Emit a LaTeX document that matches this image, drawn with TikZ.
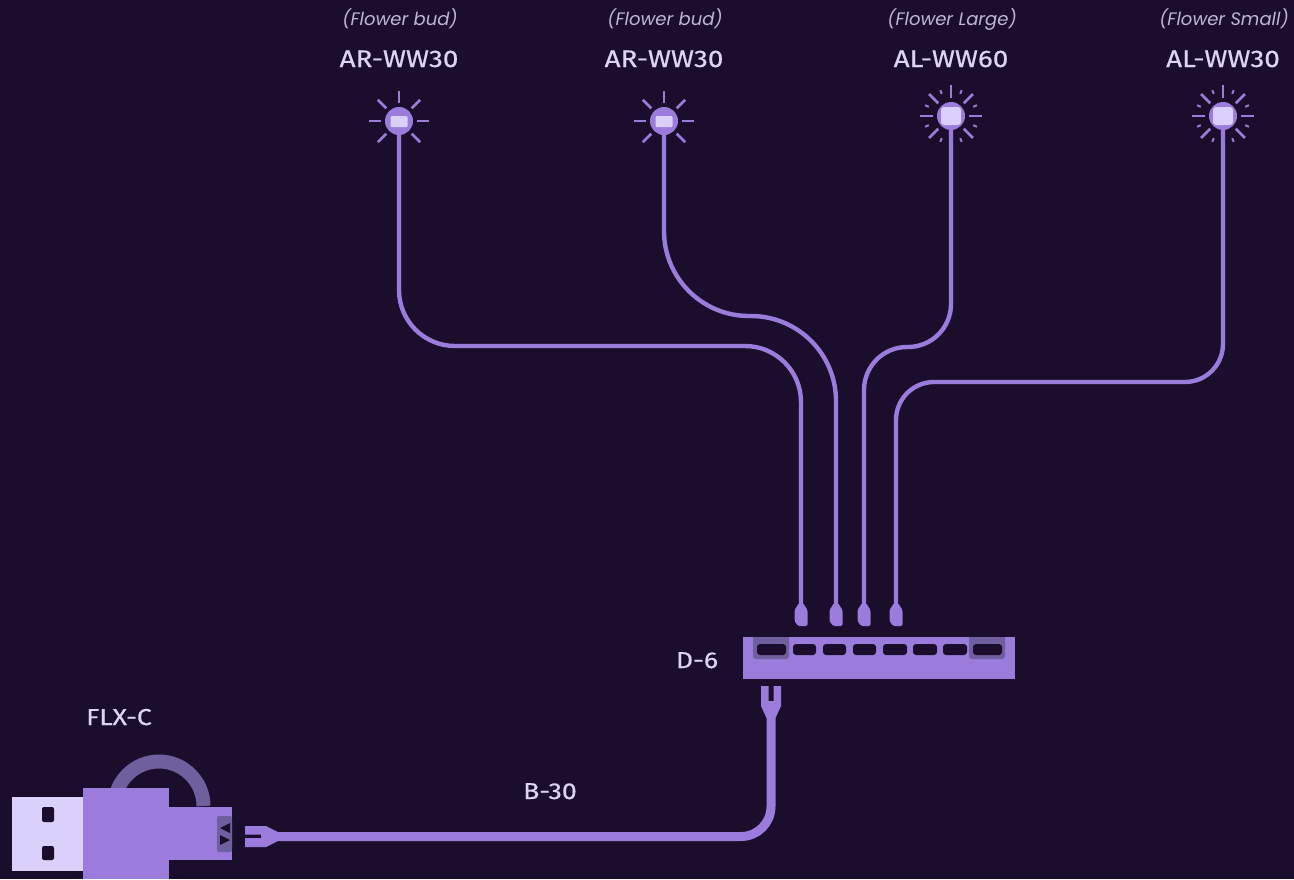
\documentclass[tikz,border=0pt]{standalone}
\usepackage{fontspec}
\newfontfamily\modelfont[FakeStretch=1.16,FakeBold=0.5]{Fira Sans}
\newfontfamily\notefont{Poppins}
\usetikzlibrary{positioning}
\definecolor{nightbg}{HTML}{1A0E2C}
\definecolor{wirepurple}{HTML}{9B7BDB}
\definecolor{palelilac}{HTML}{DAD0FA}
\definecolor{dimpurple}{HTML}{6F5F9E}
\definecolor{labeltext}{HTML}{DDD4F5}
\tikzset{
  modellabel/.style={text=labeltext,font=\modelfont\fontsize{24}{28}\selectfont,inner sep=0pt,anchor=base},
  devlabel/.style={text=labeltext,font=\modelfont\fontsize{23}{27}\selectfont,inner sep=0pt,anchor=base},
  notelabel/.style={text=labeltext!85!nightbg,font=\notefont\itshape\fontsize{18}{22}\selectfont,inner sep=0pt,anchor=base},
  wire/.style={draw=wirepurple,line width=4.4pt,line cap=round},
  bigwire/.style={draw=wirepurple,line width=9pt},
  lamp/.style={circle,fill=wirepurple,minimum size=28pt,inner sep=0pt},
  ray/.style={draw=wirepurple,line width=2.6pt},
  tick/.style={draw=wirepurple,line width=2pt},
  slot/.style={fill=nightbg,rounded corners=3pt}
}
\begin{document}
\begin{tikzpicture}[x=1pt,y=-1pt]

% Background
\fill[nightbg] (0,0) rectangle (1294,879);
\useasboundingbox (0,0) rectangle (1294,879);

%------------------------
% Lamps and their labels
%------------------------
\node[lamp] (lampA) at (399,121) {};
\node[lamp] (lampB) at (664,121) {};
\node[lamp] (lampC) at (951,116) {};
\node[lamp] (lampD) at (1223,116) {};

% small lamps
\foreach \lx in {399,664} {
  \fill[palelilac,rounded corners=1pt] (\lx-8.5,116) rectangle (\lx+8.5,127);
  \foreach \ang in {0,45,...,315}
    \draw[ray] ([shift={(\ang:18)}]\lx,121) -- ([shift={(\ang:30)}]\lx,121);
}

% large lamps
\foreach \lx in {951,1223} {
  \fill[palelilac,rounded corners=3pt] (\lx-10,107) rectangle (\lx+10,125);
  \foreach \ang in {0,45,...,315}
    \draw[ray] ([shift={(\ang:18)}]\lx,116) -- ([shift={(\ang:31)}]\lx,116);
  \foreach \ang in {22.5,67.5,...,337.5}
    \draw[tick] ([shift={(\ang:24)}]\lx,116) -- ([shift={(\ang:28)}]\lx,116);
}

\node[notelabel] (noteA) at (400,25) {(Flower bud)};
\node[notelabel] (noteB) at (665,25) {(Flower bud)};
\node[notelabel] (noteC) at (952,25) {(Flower Large)};
\node[notelabel] (noteD) at (1224,25) {(Flower Small)};
\node[modellabel] (nameA) at (399,67) {AR-WW30};
\node[modellabel] (nameB) at (664,67) {AR-WW30};
\node[modellabel] (nameC) at (951,67) {AL-WW60};
\node[modellabel] (nameD) at (1223,67) {AL-WW30};

%------------------------
% Plug heads above the hub
%------------------------
\foreach \px/\pname in {801/plugA,836/plugB,864/plugC,896/plugD} {
  \coordinate (\pname) at (\px,606);
  \fill[wirepurple,rounded corners=1.5pt] (\px-2,603) -- (\px+2,603) -- (\px+6.5,610) -- (\px+6.5,626)
    -- (\px-3,626) -- (\px-6.5,621) -- (\px-6.5,610) -- cycle;
}

%------------------------
% Wires from lamps to plugs
%------------------------
\coordinate (busA) at (600,346);
\coordinate (busB) at (750,316);
\coordinate (busC) at (907,347);
\coordinate (busD) at (1050,382);
\draw[wire,rounded corners=56pt] (lampA.south) |- (busA);
\draw[wire,rounded corners=56pt] (busA) -| (plugA);
\draw[wire,rounded corners=85pt] (lampB.south) |- (busB);
\draw[wire,rounded corners=85pt] (busB) -| (plugB);
\draw[wire,rounded corners=43pt] (lampC.south) |- (busC);
\draw[wire,rounded corners=43pt] (busC) -| (plugC);
\draw[wire,rounded corners=38pt] (lampD.south) |- (busD);
\draw[wire,rounded corners=38pt] (busD) -| (plugD);

%------------------------
% Hub D-6
%------------------------
\node[fill=wirepurple,minimum width=272pt,minimum height=42pt,inner sep=0pt] (hub) at (879,658) {};
\fill[dimpurple,rounded corners=3pt] (753,630) rectangle (789,659);
\fill[dimpurple,rounded corners=3pt] (969,630) rectangle (1005,659);
\fill[nightbg] (740,628) rectangle (1018,637);
\foreach \sa/\sb in {757/786,793/816,823/846,853/876,883/907,913/937,943/967,973/1002}
  \fill[slot] (\sa,644) rectangle (\sb,655);
\node[devlabel] (hubname) at (697,668) {D-6};

%------------------------
% Cable B-30 with its two forks
%------------------------
\coordinate (forkHub) at (771,716);
\coordinate (forkUsb) at (277,836.5);
\draw[bigwire,rounded corners=30pt] (forkHub) |- (forkUsb);
\fill[wirepurple] (761,686) -- (768.5,686) -- (768.5,701) -- (773.5,701) -- (773.5,686) -- (781,686)
  -- (781,706) -- (775.5,718) -- (766.5,718) -- (761,706) -- cycle;
\fill[wirepurple] (245,826) -- (266,826) -- (278,832) -- (278,841) -- (266,847) -- (245,847)
  -- (245,838) -- (261,838) -- (261,834.5) -- (245,834.5) -- cycle;
\node[devlabel] (cablename) at (550,799) {B-30};

%------------------------
% USB stick FLX-C
%------------------------
\draw[dimpurple,line width=14pt] (114.5,806) arc[start angle=180,end angle=360,radius=44.5];
\fill[palelilac] (12,797) rectangle (84,871);
\fill[nightbg,rounded corners=2pt] (42,807) rectangle (54,822);
\fill[nightbg,rounded corners=2pt] (42,846) rectangle (54,860);
\fill[wirepurple] (83,788) rectangle (169,879);
\fill[wirepurple] (169,807) rectangle (232,860);
\fill[dimpurple,rounded corners=2pt] (217,816) -- (232,816) -- (232,852) -- (217,852) -- cycle;
\fill[nightbg] (230,823) -- (230,833) -- (220,828) -- cycle;
\fill[nightbg] (220,835) -- (220,845) -- (230,840) -- cycle;
\node[devlabel] (usbname) at (119,725) {FLX-C};

\end{tikzpicture}
\end{document}
